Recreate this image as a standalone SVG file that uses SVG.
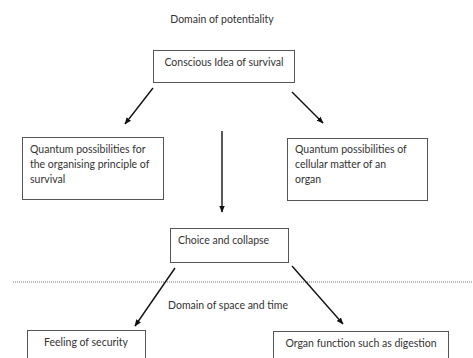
<svg xmlns="http://www.w3.org/2000/svg" width="473" height="358" viewBox="0 0 473 358">
<defs>
<marker id="ah" viewBox="0 0 10 10" refX="9" refY="5" markerWidth="7" markerHeight="7" orient="auto-start-reverse" markerUnits="userSpaceOnUse">
<path d="M0,1 L10,5 L0,9 z" fill="#111"/>
</marker>
<style>
text{font-family:Lato,"Open Sans","Liberation Sans",sans-serif;font-size:10.5px;fill:#333}
.box{fill:#fff;stroke:#555;stroke-width:1}
.c{stroke:#111;stroke-width:1.4;fill:none;marker-end:url(#ah)}
</style>
</defs>
<rect width="473" height="358" fill="#fff"/>
<text x="222" y="23" text-anchor="middle">Domain of potentiality</text>
<line x1="13" y1="282" x2="473" y2="282" stroke="#777" stroke-width="1" stroke-dasharray="1,1"/>
<text x="228" y="309" text-anchor="middle">Domain of space and time</text>
<g id="conscious"><rect class="box" x="153.5" y="50.5" width="141" height="32"/><text x="224" y="66" text-anchor="middle">Conscious Idea of survival</text></g>
<g id="qp-organising"><rect class="box" x="22.5" y="137.5" width="141" height="62"/><text x="30" y="153">Quantum possibilities for</text><text x="30" y="168">the organising principle of</text><text x="30" y="183">survival</text></g>
<g id="qp-cellular"><rect class="box" x="287.5" y="138.5" width="140" height="62"/><text x="295" y="153">Quantum possibilities of</text><text x="295" y="168">cellular matter of an</text><text x="295" y="183">organ</text></g>
<g id="choice"><rect class="box" x="170.5" y="228.5" width="118" height="34"/><text x="178" y="244">Choice and collapse</text></g>
<g id="security"><rect class="box" x="27.5" y="330.5" width="118" height="34"/><text x="86" y="346" text-anchor="middle">Feeling of security</text></g>
<g id="organ-function"><rect class="box" x="273.5" y="331.5" width="175" height="34"/><text x="361" y="347" text-anchor="middle">Organ function such as digestion</text></g>
<g id="connectors">
<line class="c" x1="153" y1="88" x2="125" y2="124"/>
<line class="c" x1="292" y1="92" x2="323" y2="123"/>
<line class="c" x1="222" y1="131" x2="222" y2="212"/>
<line class="c" x1="175" y1="268" x2="135" y2="326"/>
<line class="c" x1="292" y1="266" x2="343" y2="324"/>
</g>
</svg>
